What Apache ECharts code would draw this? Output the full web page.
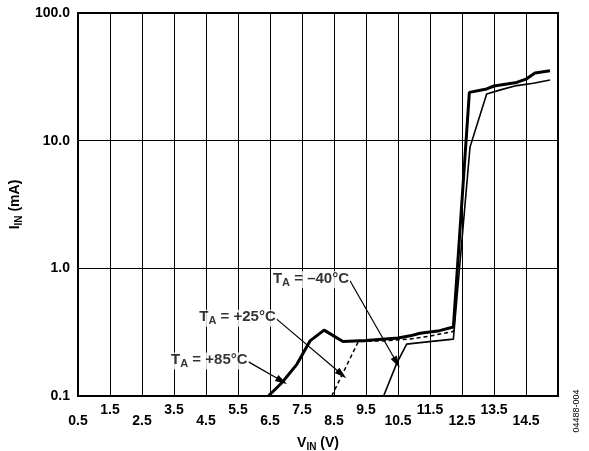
<!DOCTYPE html>
<html>
<head>
<meta charset="utf-8">
<script src="https://cdn.jsdelivr.net/npm/echarts@6/dist/echarts.min.js"></script>
<style>
html,body{margin:0;padding:0;background:#fff;}
#chart{width:589px;height:451px;}
</style>
</head>
<body>
<div id="chart"></div>
<script>
// ---- data (volts, mA) ----
const X_OFFSET = 0.5; // axis starts at 0.5 V
const X_TICK_LABELS = ['0.5','1.5','2.5','3.5','4.5','5.5','6.5','7.5','8.5','9.5','10.5','11.5','12.5','13.5','14.5'];
const Y_TICK_LABELS = ['0.1','1.0','10.0','100.0'];

const V_85 = [6.45, 6.87, 7.34, 7.75, 8.19, 8.78, 9.5, 10.5, 10.88, 11.19, 11.8, 12.23, 12.73, 13.27, 13.5, 14.21, 14.52, 14.78, 15.25];
const I_85 = [0.1, 0.127, 0.177, 0.27, 0.328, 0.267, 0.272, 0.285, 0.296, 0.31, 0.325, 0.347, 23.9, 25.4, 26.8, 28.6, 30.5, 33.9, 35.3];

const V_25 = [8.43, 9.26, 10.0, 10.88, 11.5, 12.23, 12.73, 13.27, 13.5, 14.21, 14.52, 14.78, 15.25];
const I_25 = [0.1, 0.267, 0.27, 0.279, 0.295, 0.32, 23.9, 25.4, 26.8, 28.6, 30.5, 33.9, 35.3];

const V_M40 = [10.05, 10.46, 10.77, 11.19, 12.23, 12.75, 13.27, 13.7, 14.21, 14.73, 15.25];
const I_M40 = [0.1, 0.18, 0.255, 0.262, 0.279, 8.9, 23.2, 25.0, 27.0, 28.2, 29.9];

// annotations: arrow from tail (text end) to head (on curve)
const ANN_TEXT = ['–40°C', '+25°C', '+85°C'];
const ANN_TAIL_V = [9.0, 6.71, 5.83];
const ANN_TAIL_I = [0.80, 0.40, 0.185];
const ANN_HEAD_V = [10.46, 8.74, 6.87];
const ANN_HEAD_I = [0.183, 0.148, 0.131];

const FONT = 'Liberation Sans, Arial, Helvetica, sans-serif';

function pts(vs, is) { return vs.map((v, k) => [v - X_OFFSET, is[k]]); }

const chart = echarts.init(document.getElementById('chart'), null, {renderer: 'canvas'});

const arrowData = ANN_TEXT.map((t, k) => [
  {coord: [ANN_TAIL_V[k] - X_OFFSET, ANN_TAIL_I[k]]},
  {coord: [ANN_HEAD_V[k] - X_OFFSET, ANN_HEAD_I[k]]}
]);
const labelData = ANN_TEXT.map((t, k) => ({value: [ANN_TAIL_V[k] - X_OFFSET, ANN_TAIL_I[k]], name: t}));

const subRich = {
  b: {fontFamily: FONT, fontSize: 14, fontWeight: 'bold', color: '#000', lineHeight: 16, verticalAlign: 'top'},
  s: {fontFamily: FONT, fontSize: 10, fontWeight: 'bold', color: '#000', lineHeight: 10, padding: [9, 0, 0, 0], verticalAlign: 'bottom'}
};

const option = {
  animation: false,
  backgroundColor: '#fff',
  grid: {left: 78, right: 31, top: 13, bottom: 55, show: true, borderColor: '#000', borderWidth: 2,
         containLabel: false, outerBoundsMode: 'none'},
  xAxis: {
    type: 'value', min: 0, max: 15, interval: 1,
    axisLine: {show: false}, axisTick: {show: false},
    splitLine: {show: true, lineStyle: {color: '#000', width: 1}},
    axisLabel: {
      interval: 0, margin: 7, showMinLabel: true, showMaxLabel: true, hideOverlap: false,
      formatter: function (val) {
        const k = Math.round(val);
        const s = X_TICK_LABELS[k];
        if (!s) return '';
        return k % 2 === 0 ? '{lo|' + s + '}' : '{hi|' + s + '}';
      },
      rich: {
        lo: {fontFamily: FONT, fontSize: 14, fontWeight: 'bold', color: '#000', padding: [11, 0, 0, 0]},
        hi: {fontFamily: FONT, fontSize: 14, fontWeight: 'bold', color: '#000'}
      }
    },
    name: '{b|V}{s|IN}{b| (V)}', nameLocation: 'middle', nameGap: 34,
    nameTextStyle: {rich: subRich}
  },
  yAxis: {
    type: 'log', logBase: 10, min: 0.1, max: 100,
    axisLine: {show: false}, axisTick: {show: false}, minorTick: {show: false},
    splitLine: {show: true, lineStyle: {color: '#000', width: 1}},
    axisLabel: {
      margin: 8, fontFamily: FONT, fontSize: 14, fontWeight: 'bold', color: '#000',
      formatter: function (val) {
        const k = Math.round(Math.log10(val)) + 1;
        return Y_TICK_LABELS[k] || '';
      }
    },
    name: '{b|I}{s|IN}{b| (mA)}', nameLocation: 'middle', nameGap: 53,
    nameTextStyle: {rich: subRich}
  },
  series: [
    {type: 'line', name: '-40', data: pts(V_M40, I_M40), showSymbol: false, symbol: 'none',
     lineStyle: {color: '#000', width: 1.6}, z: 3},
    {type: 'line', name: '+25', data: pts(V_25, I_25), showSymbol: false, symbol: 'none',
     lineStyle: {color: '#000', width: 1.5, type: [4, 3]}, z: 3},
    {type: 'line', name: '+85', data: pts(V_85, I_85), showSymbol: false, symbol: 'none',
     lineStyle: {color: '#000', width: 3}, z: 4,
     markLine: {
       silent: true, symbol: ['none', 'triangle'], symbolSize: [7, 12],
       lineStyle: {color: '#000', width: 1.2, type: 'solid'},
       label: {show: false},
       data: arrowData
     }},
    {type: 'scatter', name: 'labels', data: labelData, symbolSize: 0, z: 6,
     label: {
       show: true, position: 'left', distance: 0, offset: [0, -1],
       backgroundColor: '#fff', padding: [0, 1, 0, 2],
       formatter: function (p) { return '{b|T}{s|A}{b| = ' + p.name + '}'; },
       rich: {
         b: {fontFamily: FONT, fontSize: 15, fontWeight: 'bold', color: '#000', lineHeight: 17, verticalAlign: 'top'},
         s: {fontFamily: FONT, fontSize: 11, fontWeight: 'bold', color: '#000', lineHeight: 11, padding: [9, 0, 0, 0], verticalAlign: 'bottom'}
       }
     }}
  ],
  graphic: [
    {type: 'text', x: 577, y: 411, rotation: Math.PI / 2,
     style: {text: '04488-004', font: '9px ' + FONT, fill: '#000', align: 'center', verticalAlign: 'middle'}}
  ]
};
chart.setOption(option);
</script>
</body>
</html>
